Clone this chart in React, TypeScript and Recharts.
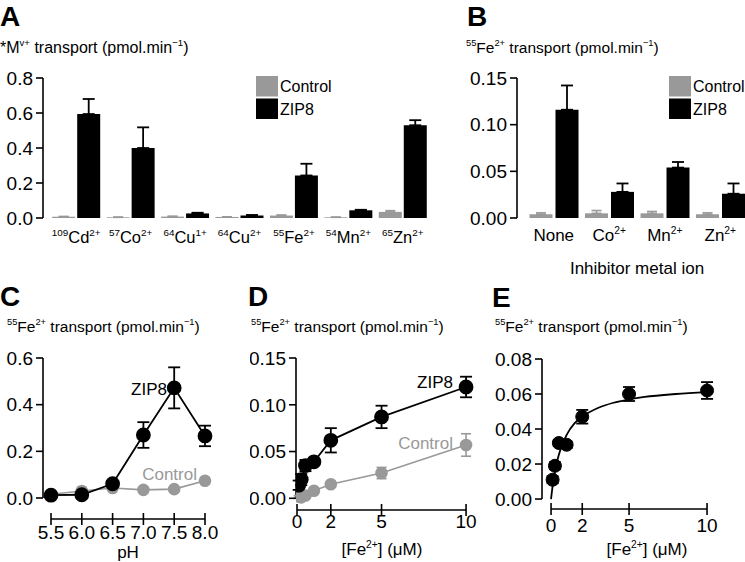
import { BarChart, Bar, ComposedChart, Line, XAxis, YAxis, ErrorBar, ReferenceLine } from 'recharts';

const CONTROL = '#999999';
const ZIP = '#000000';
const FONT = 'Arial, "Liberation Sans", Helvetica, sans-serif';
const TICK_FONT = 19;

// Panel A: metal ion uptake
const isotopes = ['109', '57', '64', '64', '55', '54', '65'];
const elements = ['Cd', 'Co', 'Cu', 'Cu', 'Fe', 'Mn', 'Zn'];
const charges = ['2+', '2+', '1+', '2+', '2+', '2+', '2+'];
const controlA = [0.007, 0.004, 0.008, 0.006, 0.014, 0.004, 0.035];
const controlAErr = [0.002, 0.001, 0.002, 0.001, 0.003, 0.001, 0.007];
const zipA = [0.594, 0.4, 0.026, 0.015, 0.243, 0.044, 0.53];
const zipAErr = [0.086, 0.118, 0.004, 0.002, 0.067, 0.003, 0.029];

// Panel B: inhibition
const inhibitors = ['None', 'Co', 'Mn', 'Zn'];
const inhibitorCharges = ['', '2+', '2+', '2+'];
const controlB = [0.004, 0.005, 0.005, 0.004];
const controlBErr = [0.0015, 0.003, 0.002, 0.0015];
const zipB = [0.116, 0.028, 0.054, 0.026];
const zipBErr = [0.026, 0.009, 0.006, 0.011];

// Panel C: pH dependence
const phValues = [5.5, 6.0, 6.5, 7.0, 7.5, 8.0];
const zipC = [0.012, 0.014, 0.061, 0.27, 0.472, 0.266];
const zipCErr = [0.008, 0.008, 0.01, 0.055, 0.088, 0.044];
const controlC = [0.016, 0.03, 0.043, 0.035, 0.038, 0.074];
const controlCErr = [0.006, 0.016, 0.008, 0.012, 0.006, 0.012];

// Panel D: concentration dependence
const feConc = [0.1, 0.25, 0.5, 1, 2, 5, 10];
const zipD = [0.014, 0.02, 0.035, 0.039, 0.062, 0.087, 0.119];
const zipDErr = [0.005, 0.006, 0.006, 0.002, 0.013, 0.012, 0.011];
const controlD = [0.002, 0.001, 0.003, 0.008, 0.015, 0.027, 0.057];
const controlDErr = [0.001, 0.001, 0.002, 0.003, 0.003, 0.006, 0.012];

// Panel E: ZIP8 minus control, with fitted curve
const zipE = [0.011, 0.019, 0.032, 0.031, 0.047, 0.06, 0.062];
const zipEErr = [0.002, 0.002, 0.0018, 0.0018, 0.0039, 0.004, 0.0048];
const fitX = [0, 0.1, 0.2, 0.35, 0.5, 0.75, 1, 1.5, 2, 3, 4, 5, 6, 8, 10];
const fitY = [0, 0.0074, 0.0132, 0.0201, 0.0253, 0.0318, 0.0367, 0.0432, 0.047, 0.052, 0.055, 0.0569, 0.0583, 0.06, 0.0611];

const aData = isotopes.map((iso, i) => ({
  label: iso + elements[i] + charges[i],
  control: controlA[i],
  controlErr: [0, controlAErr[i]],
  zip: zipA[i],
  zipErr: [0, zipAErr[i]],
}));

const bData = inhibitors.map((name, i) => ({
  label: name,
  control: controlB[i],
  controlErr: [0, controlBErr[i]],
  zip: zipB[i],
  zipErr: [0, zipBErr[i]],
}));

const cData = phValues.map((x, i) => ({
  x, zip: zipC[i], zipErr: zipCErr[i], control: controlC[i], controlErr: controlCErr[i],
}));

const dData = feConc.map((x, i) => ({
  x, zip: zipD[i], zipErr: zipDErr[i], control: controlD[i], controlErr: controlDErr[i],
}));

const eData = feConc.map((x, i) => ({ x, y: zipE[i], err: zipEErr[i] }));
const fitData = fitX.map((x, i) => ({ x, y: fitY[i] }));

const legendItems = [
  { name: 'Control', color: CONTROL },
  { name: 'ZIP8', color: ZIP },
];

const axisStroke = { stroke: '#000', strokeWidth: 1.6 };

function Rich({ x, y, parts, size, anchor = 'start', fill = '#000', weight }: any) {
  let raised = false;
  return (
    <text x={x} y={y} fontSize={size} textAnchor={anchor} fill={fill} fontWeight={weight} style={{ whiteSpace: 'pre' }}>
      {parts.map((p: string, i: number) => {
        const sup = p.startsWith('^');
        const t = sup ? p.slice(1) : p;
        let dy = 0;
        if (sup && !raised) dy = -size * 0.42;
        if (!sup && raised) dy = size * 0.42;
        raised = sup;
        return (
          <tspan key={i} dy={dy} fontSize={sup ? size * 0.6 : size}>
            {t}
          </tspan>
        );
      })}
    </text>
  );
}

function MetalTick({ x, y, payload }: any) {
  const i = aData.findIndex((d) => d.label === payload.value);
  return <Rich x={x} y={y + 25} size={16.5} anchor="middle" parts={['^' + isotopes[i], elements[i], '^' + charges[i]]} />;
}

function InhibitorTick({ x, y, payload }: any) {
  const i = inhibitors.indexOf(payload.value);
  const parts = inhibitorCharges[i] ? [inhibitors[i], '^' + inhibitorCharges[i]] : [inhibitors[i]];
  return <Rich x={x} y={y + 23} size={17} anchor="middle" parts={parts} />;
}

function CrossTick({ x, y, payload, labelDy, digits }: any) {
  return (
    <g>
      <line x1={x} x2={x} y1={y - 6} y2={y + 6} stroke="#000" strokeWidth={1.6} />
      <text x={x} y={y + labelDy} textAnchor="middle" fontSize={TICK_FONT} fill="#000">
        {payload.value.toFixed(digits)}
      </text>
    </g>
  );
}

function Legend2({ x, y }: { x: number; y: number }) {
  return (
    <g>
      {legendItems.map((item, i) => (
        <g key={item.name}>
          <rect x={x} y={y + i * 22.5} width={22} height={20.5} fill={item.color} />
          <text x={x + 24} y={y + i * 22.5 + 16} fontSize={16} fill="#000">
            {item.name}
          </text>
        </g>
      ))}
    </g>
  );
}

const titleParts = ['^55', 'Fe', '^2+', ' transport (pmol.min', '^\u22121', ')'];
const concParts = ['[Fe', '^2+', '] (\u03bcM)'];

export default function App() {
  return (
    <div style={{ position: 'absolute', left: 0, top: 0, width: 745, height: 562, overflow: 'hidden', background: '#fff', fontFamily: FONT }}>
      {/* A */}
      <div style={{ position: 'absolute', left: 0, top: 0 }}>
        <BarChart width={440} height={260} data={aData} margin={{ top: 78, right: 10, bottom: 0, left: 0 }} barCategoryGap={3.2} barGap={2}>
          <XAxis dataKey="label" axisLine={false} tickLine={false} tickSize={0} tickMargin={0} height={42} padding={{ left: 6, right: 0 }} interval={0} tick={(p: any) => <MetalTick {...p} />} />
          <YAxis width={43} domain={[0, 0.8]} ticks={[0, 0.2, 0.4, 0.6, 0.8]} tickFormatter={(v: number) => v.toFixed(1)} axisLine={axisStroke} tickLine={axisStroke} tickSize={7} tickMargin={3} tick={{ fill: '#000', fontSize: TICK_FONT }} />
          <Bar dataKey="control" fill={CONTROL} isAnimationActive={false}>
            <ErrorBar dataKey="controlErr" width={5} stroke={CONTROL} strokeWidth={1.6} direction="y" />
          </Bar>
          <Bar dataKey="zip" fill={ZIP} isAnimationActive={false}>
            <ErrorBar dataKey="zipErr" width={6} stroke={ZIP} strokeWidth={1.8} direction="y" />
          </Bar>
        </BarChart>
      </div>

      {/* B */}
      <div style={{ position: 'absolute', left: 440, top: 0 }}>
        <BarChart width={310} height={285} data={bData} margin={{ top: 78, right: 2, bottom: 0, left: 0 }} barCategoryGap={3.5} barGap={3}>
          <XAxis dataKey="label" axisLine={false} tickLine={false} tickSize={0} tickMargin={0} height={67} padding={{ left: 9, right: 0 }} interval={0} tick={(p: any) => <InhibitorTick {...p} />} />
          <YAxis width={77} domain={[0, 0.15]} ticks={[0, 0.05, 0.1, 0.15]} tickFormatter={(v: number) => v.toFixed(2)} axisLine={axisStroke} tickLine={axisStroke} tickSize={7} tickMargin={3} tick={{ fill: '#000', fontSize: TICK_FONT }} />
          <Bar dataKey="control" fill={CONTROL} isAnimationActive={false}>
            <ErrorBar dataKey="controlErr" width={5} stroke={CONTROL} strokeWidth={1.6} direction="y" />
          </Bar>
          <Bar dataKey="zip" fill={ZIP} isAnimationActive={false}>
            <ErrorBar dataKey="zipErr" width={6} stroke={ZIP} strokeWidth={1.8} direction="y" />
          </Bar>
        </BarChart>
      </div>

      {/* C */}
      <div style={{ position: 'absolute', left: 0, top: 300 }}>
        <ComposedChart width={250} height={262} data={cData} margin={{ top: 58, right: 37, bottom: 0, left: 0 }}>
          <XAxis dataKey="x" type="number" domain={[5.37, 8.13]} allowDataOverflow ticks={phValues} interval={0} axisLine={false} tickLine={false} tickSize={0} tickMargin={0} height={43} tick={(p: any) => <CrossTick {...p} labelDy={20} digits={1} />} />
          <YAxis width={43} domain={[-0.09, 0.6]} allowDataOverflow ticks={[0, 0.2, 0.4, 0.6]} tickFormatter={(v: number) => v.toFixed(1)} axisLine={false} tickLine={axisStroke} tickSize={7} tickMargin={3} tick={{ fill: '#000', fontSize: TICK_FONT }} />
          <ReferenceLine segment={[{ x: 5.37, y: 0 }, { x: 5.37, y: 0.6 }]} stroke="#000" strokeWidth={1.6} ifOverflow="visible" />
          <ReferenceLine segment={[{ x: 5.5, y: -0.09 }, { x: 8.0, y: -0.09 }]} stroke="#000" strokeWidth={1.6} ifOverflow="visible" />
          <Line dataKey="control" stroke={CONTROL} strokeWidth={1.6} dot={{ r: 5.5, fill: CONTROL, stroke: CONTROL }} isAnimationActive={false}>
            <ErrorBar dataKey="controlErr" width={5} stroke={CONTROL} strokeWidth={1.6} direction="y" />
          </Line>
          <Line dataKey="zip" stroke={ZIP} strokeWidth={1.8} dot={{ r: 6.5, fill: ZIP, stroke: ZIP }} isAnimationActive={false}>
            <ErrorBar dataKey="zipErr" width={6} stroke={ZIP} strokeWidth={1.8} direction="y" />
          </Line>
        </ComposedChart>
      </div>

      {/* D */}
      <div style={{ position: 'absolute', left: 250, top: 300 }}>
        <ComposedChart width={250} height={262} data={dData} margin={{ top: 58, right: 26, bottom: 0, left: 0 }}>
          <XAxis dataKey="x" type="number" domain={[-0.06, 10.47]} allowDataOverflow ticks={[0, 2, 5, 10]} interval={0} axisLine={false} tickLine={false} tickSize={0} tickMargin={0} height={52} tick={(p: any) => <CrossTick {...p} labelDy={18} digits={0} />} />
          <YAxis width={46} domain={[-0.0125, 0.15]} allowDataOverflow ticks={[0, 0.05, 0.1, 0.15]} tickFormatter={(v: number) => v.toFixed(2)} axisLine={false} tickLine={axisStroke} tickSize={7} tickMargin={3} tick={{ fill: '#000', fontSize: TICK_FONT }} />
          <ReferenceLine segment={[{ x: -0.06, y: 0 }, { x: -0.06, y: 0.15 }]} stroke="#000" strokeWidth={1.6} ifOverflow="visible" />
          <ReferenceLine segment={[{ x: 0, y: -0.0125 }, { x: 10, y: -0.0125 }]} stroke="#000" strokeWidth={1.6} ifOverflow="visible" />
          <Line dataKey="control" stroke={CONTROL} strokeWidth={1.6} dot={{ r: 5.5, fill: CONTROL, stroke: CONTROL }} isAnimationActive={false}>
            <ErrorBar dataKey="controlErr" width={5} stroke={CONTROL} strokeWidth={1.6} direction="y" />
          </Line>
          <Line dataKey="zip" stroke={ZIP} strokeWidth={1.8} dot={{ r: 6.5, fill: ZIP, stroke: ZIP }} isAnimationActive={false}>
            <ErrorBar dataKey="zipErr" width={6} stroke={ZIP} strokeWidth={1.8} direction="y" />
          </Line>
        </ComposedChart>
      </div>

      {/* E */}
      <div style={{ position: 'absolute', left: 490, top: 300 }}>
        <ComposedChart width={255} height={262} margin={{ top: 59, right: 30, bottom: 0, left: 0 }}>
          <XAxis dataKey="x" type="number" domain={[-0.58, 10.51]} allowDataOverflow ticks={[0, 2, 5, 10]} interval={0} axisLine={false} tickLine={false} tickSize={0} tickMargin={0} height={53} tick={(p: any) => <CrossTick {...p} labelDy={23} digits={0} />} />
          <YAxis width={52} domain={[-0.0057, 0.08]} allowDataOverflow ticks={[0, 0.02, 0.04, 0.06, 0.08]} tickFormatter={(v: number) => v.toFixed(2)} axisLine={false} tickLine={axisStroke} tickSize={7} tickMargin={3} tick={{ fill: '#000', fontSize: TICK_FONT }} />
          <ReferenceLine segment={[{ x: -0.58, y: 0 }, { x: -0.58, y: 0.08 }]} stroke="#000" strokeWidth={1.6} ifOverflow="visible" />
          <ReferenceLine segment={[{ x: 0, y: -0.0057 }, { x: 10, y: -0.0057 }]} stroke="#000" strokeWidth={1.6} ifOverflow="visible" />
          <Line data={fitData} dataKey="y" type="monotone" stroke={ZIP} strokeWidth={1.8} dot={false} isAnimationActive={false} />
          <Line data={eData} dataKey="y" stroke="none" dot={{ r: 6.5, fill: ZIP, stroke: ZIP }} isAnimationActive={false}>
            <ErrorBar dataKey="err" width={6} stroke={ZIP} strokeWidth={1.8} direction="y" />
          </Line>
        </ComposedChart>
      </div>

      {/* labels, titles, legends */}
      <svg width={745} height={562} style={{ position: 'absolute', left: 0, top: 0, pointerEvents: 'none', fontFamily: FONT }}>
        <text x={0} y={26} fontSize={28} fontWeight="bold">A</text>
        <text x={467} y={26} fontSize={28} fontWeight="bold">B</text>
        <text x={0} y={306} fontSize={28} fontWeight="bold">C</text>
        <text x={248} y={306} fontSize={28} fontWeight="bold">D</text>
        <text x={492} y={307} fontSize={28} fontWeight="bold">E</text>

        <Rich x={0} y={53} size={16} parts={['*M', '^v+', ' transport (pmol.min', '^\u22121', ')']} />
        <Rich x={466} y={53} size={15.5} parts={titleParts} />
        <Rich x={7} y={332} size={15.5} parts={titleParts} />
        <Rich x={251} y={332} size={15.5} parts={titleParts} />
        <Rich x={495} y={332} size={15.5} parts={titleParts} />

        <Legend2 x={256} y={76} />
        <Legend2 x={669} y={76} />

        <text x={637} y={274} fontSize={17} textAnchor="middle">Inhibitor metal ion</text>
        <text x={128} y={558} fontSize={17} textAnchor="middle">pH</text>
        <Rich x={382} y={555} size={17} anchor="middle" parts={concParts} />
        <Rich x={647} y={555} size={17} anchor="middle" parts={concParts} />

        <text x={167} y={395} fontSize={17} textAnchor="end">ZIP8</text>
        <text x={197} y={480} fontSize={17} textAnchor="end" fill={CONTROL}>Control</text>
        <text x={453} y={388} fontSize={17} textAnchor="end">ZIP8</text>
        <text x={453} y={449} fontSize={17} textAnchor="end" fill={CONTROL}>Control</text>
      </svg>
    </div>
  );
}
